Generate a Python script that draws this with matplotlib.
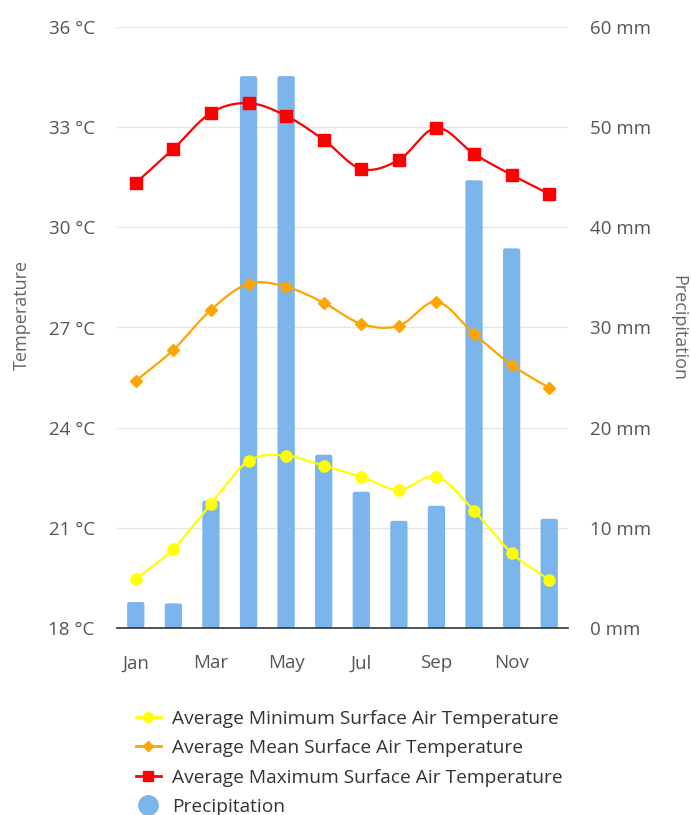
import numpy as np
import matplotlib.pyplot as plt
from matplotlib.patches import FancyBboxPatch
from matplotlib.lines import Line2D

plt.rcParams['font.family'] = ['Open Sans', 'DejaVu Sans']

months = ['Jan', 'Feb', 'Mar', 'Apr', 'May', 'Jun', 'Jul', 'Aug', 'Sep', 'Oct', 'Nov', 'Dec']
t_min = [19.47, 20.37, 21.72, 23.0, 23.16, 22.86, 22.53, 22.14, 22.53, 21.51, 20.25, 19.44]
t_mean = [25.4, 26.33, 27.53, 28.31, 28.22, 27.74, 27.11, 27.05, 27.77, 26.81, 25.88, 25.19]
t_max = [31.33, 32.35, 33.43, 33.72, 33.34, 32.62, 31.75, 32.02, 32.98, 32.2, 31.57, 31.0]
precip = [2.6, 2.46, 12.7, 55.1, 55.1, 17.3, 13.6, 10.7, 12.2, 44.7, 37.9, 10.9]

temp_ticks = [18, 21, 24, 27, 30, 33, 36]
rain_ticks = [0, 10, 20, 30, 40, 50, 60]


def spline(y, n=30):
    # cubic hermite with catmull-rom tangents, only for drawing the curve
    y = np.asarray(y, float)
    x = np.arange(len(y))
    m = np.gradient(y)
    xs, ys = [], []
    for i in range(len(y) - 1):
        t = np.linspace(0, 1, n)
        h00 = 2*t**3 - 3*t**2 + 1
        h10 = t**3 - 2*t**2 + t
        h01 = -2*t**3 + 3*t**2
        h11 = t**3 - t**2
        xs.append(x[i] + t)
        ys.append(h00*y[i] + h10*m[i] + h01*y[i+1] + h11*m[i+1])
    return np.concatenate(xs), np.concatenate(ys)


fig = plt.figure(figsize=(6.91, 8.15), dpi=100)
ax = fig.add_axes([117/691, 1-628/815, 451/691, 601/815])
ax2 = ax.twinx()

x = np.arange(12)

# grid + bars on the right axis (behind the lines)
ax2.set_ylim(0, 60)
for yv in rain_ticks[1:]:
    ax2.axhline(yv, color='#e6e6e6', lw=1, zorder=0)
bw = 0.46
for xi, v in zip(x, precip):
    p = FancyBboxPatch((xi - bw/2, 0), bw, v,
                       boxstyle="round,pad=0,rounding_size=0.06",
                       mutation_aspect=3.75,
                       fc='#7cb5ec', ec='none', zorder=1)
    ax2.add_patch(p)

ax.set_zorder(ax2.get_zorder() + 1)
ax.patch.set_visible(False)

ax.set_xlim(-0.5, 11.5)
ax.set_ylim(18, 36)

series = [(t_min, '#ffff00', 'o', 8, 'Average Minimum Surface Air Temperature'),
          (t_mean, '#ffa500', 'D', 6, 'Average Mean Surface Air Temperature'),
          (t_max, '#ff0000', 's', 9, 'Average Maximum Surface Air Temperature')]
for vals, col, mk, ms, lab in series:
    sx, sy = spline(vals)
    ax.plot(sx, sy, color=col, lw=1.6, zorder=3)
    ax.plot(x, vals, ls='none', marker=mk, ms=ms, color=col, mec=col, zorder=4)

ax.set_xticks(x[::2])
ax.set_xticklabels(months[::2])
ax.set_yticks(temp_ticks)
ax.set_yticklabels([f'{v} °C' for v in temp_ticks])
ax2.set_yticks(rain_ticks)
ax2.set_yticklabels([f'{v} mm' for v in rain_ticks])

for a in (ax, ax2):
    for s in a.spines.values():
        s.set_visible(False)
    a.tick_params(length=0, labelsize=13.5, labelcolor='#555555')
ax.spines['bottom'].set_visible(True)
ax.spines['bottom'].set_color('#333333')
ax.spines['bottom'].set_linewidth(1.2)
ax.tick_params(axis='y', pad=16)
ax2.tick_params(axis='y', pad=16)
ax.tick_params(axis='x', pad=19)

fig.text(22/691, 1-315/815, 'Temperature', rotation=90, ha='center', va='center',
         fontsize=13, color='#666666')
fig.text(678/691, 1-328/815, 'Precipitation', rotation=270, ha='center', va='center',
         fontsize=13, color='#666666')

handles = [Line2D([], [], color=c, marker=m, ms=ms*0.85, lw=2) for _, c, m, ms, _ in series]
handles.append(Line2D([], [], ls='none', marker='o', ms=14, color='#7cb5ec'))
labels = [s[4] for s in series] + ['Precipitation']
leg = fig.legend(handles, labels, loc='upper left', bbox_to_anchor=(126/691, 1-700/815),
                 frameon=False, fontsize=13.8, handlelength=1.3, handletextpad=0.6,
                 labelspacing=0.6, borderpad=0)
for t in leg.get_texts():
    t.set_color('#333333')

fig.savefig('out.png', dpi=100)
